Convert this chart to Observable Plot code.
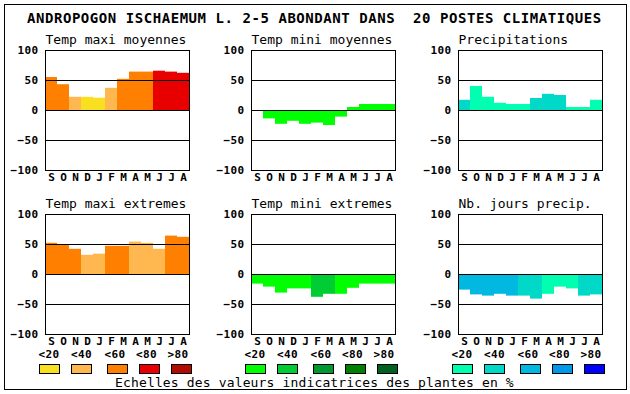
<!DOCTYPE html>
<html><head><meta charset="utf-8">
<script src="https://cdn.jsdelivr.net/npm/d3@7"></script>
<script src="https://cdn.jsdelivr.net/npm/@observablehq/plot@0.6"></script>
<style>
html,body{margin:0;padding:0;background:#fff;}
#chart{position:relative;width:630px;height:394px;overflow:hidden;background:#fff;}
#chart svg{position:absolute;}
#chart g[aria-label="y-axis tick label"] text{letter-spacing:0.4px;}
#chart text{white-space:pre;}
</style></head><body><div id="chart"></div>
<script>
const mainTitle = "ANDROPOGON ISCHAEMUM L. 2-5 ABONDANT DANS  20 POSTES CLIMATIQUES";
const footer = "Echelles des valeurs indicatrices des plantes en %";
const months = ["S","O","N","D","J","F","M","A","M","J","J","A"];
const yTicks = [-100, -50, 0, 50, 100];
const gridValues = [-50, 0, 50];
const legendLabels = ["<20", "<40", "<60", "<80", ">80"];
const classes = [1, 2, 3, 4, 5];

const warmColors = ["#f8e020", "#ffb850", "#ff8000", "#e80000", "#b00c00"];
const greenColors = ["#00ff00", "#00cc33", "#009930", "#008000", "#006020"];
const blueColors = ["#00ffb0", "#00d8c8", "#00b8e0", "#0098e8", "#0000ff"];

const panelTitles = ["Temp maxi moyennes", "Temp mini moyennes", "Precipitations",
                     "Temp maxi extremes", "Temp mini extremes", "Nb. jours precip."];

const tmaxMoy      = [55, 43, 22, 22, 20.5, 37, 52, 64, 64, 65.5, 64, 62];
const tmaxMoyClass = [3, 3, 2, 1, 1, 2, 3, 3, 3, 4, 4, 4];
const tminMoy      = [0, -14, -23, -18, -23, -21, -25, -11, 5, 10, 10, 10];
const tminMoyClass = [1, 1, 1, 1, 1, 1, 1, 1, 1, 1, 1, 1];
const precip       = [17, 40, 22, 12, 10, 10, 20, 27, 25, 5, 5, 17];
const precipClass  = [2, 1, 1, 1, 1, 1, 2, 2, 2, 1, 1, 1];
const tmaxExt      = [52, 49, 42, 32, 34, 47, 47, 54, 52, 42, 64, 62];
const tmaxExtClass = [3, 3, 3, 2, 2, 3, 3, 2, 2, 2, 3, 3];
const tminExt      = [-16, -21, -31, -24, -24, -38, -33, -33, -23, -16, -16, -16];
const tminExtClass = [1, 1, 1, 1, 1, 2, 2, 1, 1, 1, 1, 1];
const nbJours      = [-26, -34, -36, -33, -36, -36, -41, -33, -21, -24, -36, -34];
const nbJoursClass = [3, 3, 3, 3, 3, 2, 2, 1, 1, 1, 2, 2];

const container = document.getElementById("chart");
const colLefts = [0, 206, 413];
const frameOffset = 45;

function panel(title, values, cls, palette, col, row) {
  const data = values.map((v, i) => ({i, v, c: cls[i]}));
  const top = row === 0 ? 0 : 184;
  const marginTop = row === 0 ? 50 : 30;
  const height = row === 0 ? 184 : 170;
  const svg = Plot.plot({
    width: 206, height,
    marginLeft: frameOffset, marginRight: 17, marginTop, marginBottom: height - marginTop - 120,
    style: {background: "transparent", overflow: "visible", fontFamily: "'DejaVu Sans Mono', monospace"},
    x: {type: "band", domain: d3.range(12), padding: 0, axis: null},
    y: {domain: [-100, 100], axis: null},
    color: {type: "ordinal", domain: classes, range: palette},
    marks: [
      Plot.barY(data, {x: "i", y: "v", fill: "c"}),
      Plot.ruleY(gridValues, {stroke: "black"}),
      Plot.frame({stroke: "black"}),
      Plot.axisY(yTicks, {tickSize: 0, tickPadding: 7, fontSize: 11, fontWeight: "bold", label: null, fill: "black"}),
      Plot.axisX({tickSize: 0, tickPadding: 3, tickFormat: i => months[i], fontSize: 11, fontWeight: "bold", label: null, fill: "black"}),
      Plot.text([title], {frameAnchor: "top-left", textAnchor: "start", lineAnchor: "bottom", dy: -7, fontSize: 13, fill: "black"})
    ]
  });
  svg.style.left = colLefts[col] + "px";
  svg.style.top = top + "px";
  container.appendChild(svg);
}

panel(panelTitles[0], tmaxMoy, tmaxMoyClass, warmColors, 0, 0);
panel(panelTitles[1], tminMoy, tminMoyClass, greenColors, 1, 0);
panel(panelTitles[2], precip, precipClass, blueColors, 2, 0);
panel(panelTitles[3], tmaxExt, tmaxExtClass, warmColors, 0, 1);
panel(panelTitles[4], tminExt, tminExtClass, greenColors, 1, 1);
panel(panelTitles[5], nbJours, nbJoursClass, blueColors, 2, 1);

const ov = d3.select(container).append("svg")
  .attr("width", 630).attr("height", 394)
  .style("left", "0px").style("top", "0px")
  .attr("font-family", "'DejaVu Sans Mono', monospace");
ov.append("rect").attr("x", 4.5).attr("y", 4.5).attr("width", 622).attr("height", 385)
  .attr("fill", "none").attr("stroke", "black");
ov.append("text").attr("x", 27).attr("y", 23).attr("font-size", 14).attr("font-weight", "bold")
  .style("letter-spacing", "0.55px").text(mainTitle);
ov.append("text").attr("x", 115).attr("y", 386.5).attr("font-size", 13)
  .style("letter-spacing", "0.15px").text(footer);

const boxOffsets = [-6, 26, 62, 94, 126];
const labelOffsets = [4, 36.5, 70, 101.5, 133];
const palettes = [warmColors, greenColors, blueColors];
palettes.forEach((pal, col) => {
  const fl = colLefts[col] + frameOffset;
  const g = ov.append("g");
  g.selectAll("text").data(legendLabels).join("text")
    .attr("x", (d, i) => fl + labelOffsets[i]).attr("y", 358)
    .attr("text-anchor", "middle").attr("font-size", 11).attr("font-weight", "bold")
    .style("letter-spacing", "0.4px").text(d => d);
  g.selectAll("rect").data(pal).join("rect")
    .attr("x", (d, i) => fl + boxOffsets[i] + 0.5).attr("y", 364.5)
    .attr("width", 20).attr("height", 9)
    .attr("fill", d => d).attr("stroke", "black");
});
</script></body></html>
